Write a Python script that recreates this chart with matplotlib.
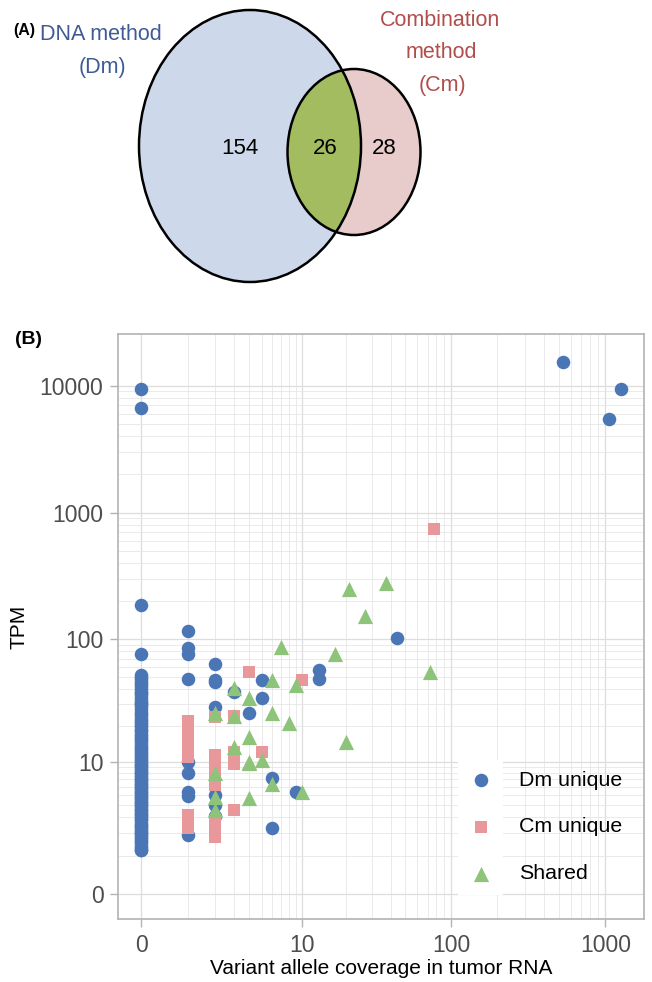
import numpy as np
import matplotlib
matplotlib.use("Agg")
import matplotlib.pyplot as plt
from matplotlib.patches import Ellipse, Rectangle
from matplotlib.ticker import FixedLocator, FixedFormatter, NullFormatter

plt.rcParams["font.family"] = ["Liberation Sans", "DejaVu Sans"]

# Venn counts
venn_counts = {"Dm": 154, "shared": 26, "Cm": 28}

# Dm unique: (coverage, TPM)
dm_x0_tpm = [9450, 6630, 187, 76, 52, 50, 48, 46, 44, 42.5, 40, 38, 37, 35.5, 34, 32,
             31, 30, 29, 27.5, 26, 25, 24, 23, 22, 21, 20.2, 19.5, 18.6, 18, 17.2, 16.5,
             16, 15.2, 14.6, 14, 13.4, 12.8, 12.3, 11.8, 11.3, 10.9, 10.5, 10.1, 9.8, 9.4,
             9.1, 8.8, 8.5, 8.2, 7.9, 7.6, 7.4, 7.1, 6.9, 6.6, 6.4, 6.2, 6.0, 5.8, 5.6,
             5.4, 5.2, 5.0, 4.8, 4.7, 4.5, 4.3, 4.2, 4.0, 3.9, 3.7, 3.6, 3.4, 3.3, 3.2,
             3.0, 2.9, 2.8, 2.6, 2.5, 2.4, 2.3, 2.2, 2.1, 2.0, 1.9, 1.8, 1.7, 1.6, 1.5,
             1.4, 1.3, 1.2, 1.2]
dm_x = [0] * len(dm_x0_tpm) + [1, 1, 1, 1, 1, 1, 1, 1, 1,
                                 2, 2, 2, 2, 2, 2, 2,
                                 3, 4, 5, 5, 6, 6, 9, 13, 13,
                                 44, 535, 1063, 1265]
dm_y = dm_x0_tpm + [117, 86, 76, 48, 10, 7.9, 5.3, 4.9, 1.9,
                    64, 47, 45.5, 28.8, 5.0, 4.0, 3.1,
                    38, 25.4, 47.3, 33.7, 7.2, 2.3, 5.3, 57, 48,
                    102, 15400, 5460, 9400]

# Cm unique
cm_x = [1, 1, 1, 1, 1, 1, 1, 1,
        2, 2, 2, 2, 2, 2, 2, 2, 2,
        3, 3, 3, 3, 3,
        4, 5, 10, 77]
cm_y = [22, 19, 16, 13.5, 11, 3.2, 2.7, 2.3,
        23.8, 11.5, 10, 8.6, 7.3, 6.2, 2.6, 2.2, 1.8,
        24.3, 12.2, 10.5, 9.6, 3.6,
        55, 12.2, 47, 744]

# Shared
sh_x = [2, 2, 2, 2, 3, 3, 3, 4, 4, 4, 4, 4, 5, 6, 6, 6, 7, 8, 9, 10,
        17, 20, 21, 27, 37, 73]
sh_y = [25.7, 7.9, 4.8, 3.6, 40.5, 24.1, 13.4, 33.7, 16.3, 10, 9.7, 4.7, 10.3,
        47.3, 25.4, 6.4, 87, 21.3, 43, 5.4,
        77, 14.6, 249, 154, 277, 55]

x_ticks = [0, 10, 100, 1000]
y_ticks = [0, 10, 100, 1000, 10000]
x_minor = [1, 2, 3, 4, 5, 6, 7, 8, 9, 20, 30, 40, 50, 60, 70, 80, 90,
           200, 300, 400, 500, 600, 700, 800, 900]
y_minor = x_minor + [2000, 3000, 4000, 5000, 6000, 7000, 8000, 9000]

BLUE = "#4A76B6"
PINK = "#E8989B"
GREEN = "#8DC47A"

W, H = 652, 982
fig = plt.figure(figsize=(W / 100, H / 100), dpi=100)


def px_axes(left, top, right, bottom):
    return [left / W, 1 - bottom / H, (right - left) / W, (bottom - top) / H]


# ---- (A) Venn diagram ----
va = fig.add_axes([0, 1 - 300 / H, 1, 300 / H])
va.set_xlim(0, W)
va.set_ylim(300, 0)
va.axis("off")

big = Ellipse((250, 146), 222, 272, facecolor="#CDD8EA", edgecolor="none")
small = Ellipse((354, 152), 133, 166, facecolor="#E8CBCB", edgecolor="none")
va.add_patch(big)
va.add_patch(small)
inter = Ellipse((354, 152), 133, 166, facecolor="#A3BC5F", edgecolor="none")
va.add_patch(inter)
inter.set_clip_path(big)
for e in [Ellipse((250, 146), 222, 272), Ellipse((354, 152), 133, 166)]:
    e.set_facecolor("none")
    e.set_edgecolor("black")
    e.set_linewidth(1.8)
    va.add_patch(e)

va.text(240, 148, str(venn_counts["Dm"]), fontsize=16, ha="center", va="center")
va.text(325, 148, str(venn_counts["shared"]), fontsize=16, ha="center", va="center")
va.text(384, 148, str(venn_counts["Cm"]), fontsize=16, ha="center", va="center")

va.text(24, 31, "(A)", fontsize=11.5, fontweight="bold", ha="center", va="center")
dm_col, cm_col = "#3F5B96", "#B14D4B"
va.text(101, 34, "DNA method", fontsize=15.5, color=dm_col, ha="center", va="center")
va.text(102, 68, "(Dm)", fontsize=15.5, color=dm_col, ha="center", va="center")
va.text(440, 21, "Combination", fontsize=15.5, color=cm_col, ha="center", va="center")
va.text(441, 53, "method", fontsize=15.5, color=cm_col, ha="center", va="center")
va.text(442, 86, "(Cm)", fontsize=15.5, color=cm_col, ha="center", va="center")

# ---- (B) scatter ----
ax = fig.add_axes(px_axes(118, 334.3, 644, 919.3))


def fwd(v):
    return np.log10(np.maximum(v, -0.999) + 1)


def inv(v):
    return 10 ** v - 1


ax.set_xscale("function", functions=(fwd, inv))
ax.set_yscale("function", functions=(fwd, inv))
ax.set_xlim(inv(-0.151), inv(3.251))
ax.set_ylim(inv(-0.199), inv(4.404))

ax.xaxis.set_major_locator(FixedLocator(x_ticks))
ax.xaxis.set_major_formatter(FixedFormatter([str(t) for t in x_ticks]))
ax.yaxis.set_major_locator(FixedLocator(y_ticks))
ax.yaxis.set_major_formatter(FixedFormatter([str(t) for t in y_ticks]))
ax.xaxis.set_minor_locator(FixedLocator(x_minor))
ax.yaxis.set_minor_locator(FixedLocator(y_minor))
ax.xaxis.set_minor_formatter(NullFormatter())
ax.yaxis.set_minor_formatter(NullFormatter())

ax.grid(True, which="major", color="#DDDDDD", linewidth=0.9)
ax.grid(True, which="minor", color="#E6E6E6", linewidth=0.6)
ax.set_axisbelow(True)
for sp in ax.spines.values():
    sp.set_color("#B3B3B3")
    sp.set_linewidth(1.2)
ax.tick_params(which="major", length=5.5, width=1.0, color="#B3B3B3",
               labelsize=16.5, labelcolor="#4D4D4D", pad=5)
ax.tick_params(which="minor", length=0)

ax.scatter(dm_x, dm_y, s=95, marker="o", color=BLUE, linewidths=0, label="Dm unique", zorder=3)
ax.scatter(cm_x, cm_y, s=85, marker="s", color=PINK, linewidths=0, label="Cm unique", zorder=3)
ax.scatter(sh_x, sh_y, s=120, marker="^", color=GREEN, linewidths=0, label="Shared", zorder=3)

ax.set_xlabel("Variant allele coverage in tumor RNA", fontsize=15, labelpad=1.5)
ax.set_ylabel("TPM", fontsize=15, labelpad=8)

# white key backgrounds (as in ggplot legend keys); text sits on the grid
ax.add_patch(Rectangle((0.6464, 0.0415), 0.0856, 0.2308, transform=ax.transAxes,
                       facecolor="white", edgecolor="none", zorder=1))
leg = ax.legend(loc="center left", bbox_to_anchor=(0.669, 0.158), fontsize=15.4,
                frameon=False, labelspacing=1.3, handlelength=1.0, handletextpad=1.29,
                borderpad=0, borderaxespad=0, scatterpoints=1)

fig.text(29 / W, 1 - 339.5 / H, "(B)", fontsize=14, fontweight="bold",
         ha="center", va="center")

fig.savefig("out.png", dpi=100)
